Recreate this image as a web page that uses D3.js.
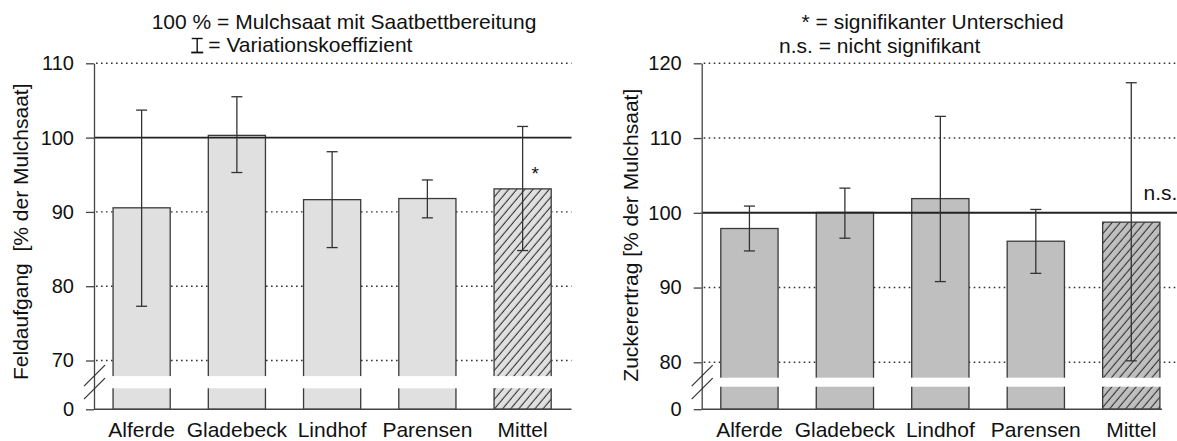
<!DOCTYPE html>
<html><head><meta charset="utf-8">
<script src="https://cdn.jsdelivr.net/npm/d3@7"></script>
<style>
body{margin:0;background:#fff;}
svg{display:block;font-family:"Liberation Sans",Arial,sans-serif;}
</style></head><body>
<svg id="chart" width="1177" height="441"></svg>
<script>
// ---- data ----
const categories = ["Alferde", "Gladebeck", "Lindhof", "Parensen", "Mittel"];
const feldaufgang = [90.55, 100.3, 91.65, 91.8, 93.1];
const feldaufgangLow = [77.3, 95.3, 85.2, 89.2, 84.8];
const feldaufgangHigh = [103.7, 105.5, 98.1, 94.3, 101.5];
const zuckerertrag = [97.9, 100.05, 101.9, 96.2, 98.75];
const zuckerertragLow = [94.9, 96.6, 90.8, 91.9, 80.2];
const zuckerertragHigh = [100.9, 103.3, 112.9, 100.45, 117.4];
const leftTicks = [0, 70, 80, 90, 100, 110];
const rightTicks = [0, 80, 90, 100, 110, 120];
const leftMarks = ["", "", "", "", "*"];
const leftTitle = ["100 % = Mulchsaat mit Saatbettbereitung", "= Variationskoeffizient"];
const rightTitle = ["* = signifikanter Unterschied", "n.s. = nicht signifikant"];
const leftYLabel = "Feldaufgang\u00a0\u00a0[% der Mulchsaat]";
const rightYLabel = "Zuckerertrag [% der Mulchsaat]";
const rightNote = "n.s.";

const svg = d3.select("#chart");
const defs = svg.append("defs");
const ink = "#222";

function hatch(id, bg) {
  const p = defs.append("pattern").attr("id", id)
    .attr("patternUnits", "userSpaceOnUse")
    .attr("width", 6.2).attr("height", 10)
    .attr("patternTransform", "rotate(40)");
  p.append("rect").attr("width", 6.2).attr("height", 10).attr("fill", bg);
  p.append("line").attr("x1", 3).attr("x2", 3).attr("y1", -1).attr("y2", 11)
    .attr("stroke", "#333").attr("stroke-width", 1.1);
}
hatch("hatchL", "#e0e0e0");
hatch("hatchR", "#bfbfbf");

function panel(cfg) {
  const { values, lo, hi, ticks, yBreak, yr, xr, gridEnd, baseEnd, fill, hatchId, gapHalf } = cfg;
  const y = d3.scaleLinear().domain([0, yBreak, ticks[ticks.length - 1]]).range(yr);
  const x = d3.scaleBand().domain(categories).range(xr).paddingInner(0.4).paddingOuter(0.2);
  const g = svg.append("g");
  const ax = xr[0];

  // dotted grid lines
  g.selectAll(".grid").data(ticks.filter(t => t !== 0 && t !== 100)).join("line")
    .attr("x1", ax + 2).attr("x2", gridEnd)
    .attr("y1", d => y(d)).attr("y2", d => y(d))
    .attr("stroke", "#333").attr("stroke-width", 1.4).attr("stroke-dasharray", "1.6,3.4");

  // bars
  g.selectAll(".bar").data(categories).join("rect")
    .attr("x", d => x(d)).attr("width", x.bandwidth())
    .attr("y", (d, i) => y(values[i]))
    .attr("height", (d, i) => y(0) - y(values[i]))
    .attr("fill", (d, i) => i === categories.length - 1 ? `url(#${hatchId})` : fill)
    .attr("stroke", "#3a3a3a").attr("stroke-width", 1.3);

  // axis break gap
  g.append("rect").attr("x", ax + 1).attr("width", gridEnd - ax)
    .attr("y", y(yBreak) - gapHalf).attr("height", gapHalf * 2).attr("fill", "#fff");

  // 100 % reference line
  g.append("line").attr("x1", ax).attr("x2", gridEnd)
    .attr("y1", y(100)).attr("y2", y(100))
    .attr("stroke", ink).attr("stroke-width", 1.9);

  // error bars
  const eb = g.selectAll(".err").data(categories).join("g")
    .attr("transform", d => `translate(${x(d) + x.bandwidth() / 2},0)`);
  eb.append("line").attr("y1", (d, i) => y(hi[i])).attr("y2", (d, i) => y(lo[i]))
    .attr("stroke", "#333").attr("stroke-width", 1.3);
  eb.append("line").attr("x1", -5.5).attr("x2", 5.5)
    .attr("y1", (d, i) => y(hi[i])).attr("y2", (d, i) => y(hi[i]))
    .attr("stroke", "#333").attr("stroke-width", 1.3);
  eb.append("line").attr("x1", -5.5).attr("x2", 5.5)
    .attr("y1", (d, i) => y(lo[i])).attr("y2", (d, i) => y(lo[i]))
    .attr("stroke", "#333").attr("stroke-width", 1.3);

  // y axis
  const ya = g.append("g").attr("transform", `translate(${ax},0)`)
    .call(d3.axisLeft(y).tickValues(ticks).tickFormat(d3.format("d"))
      .tickSize(8).tickSizeOuter(0).tickPadding(12));
  ya.select(".domain").attr("stroke", "#444").attr("stroke-width", 1.3);
  ya.selectAll(".tick line").attr("stroke", "#444").attr("stroke-width", 1.3);
  ya.selectAll(".tick text").attr("font-size", 20).attr("fill", "#111")
    .attr("font-family", "'Liberation Sans',Arial,sans-serif");

  // x axis
  const xa = g.append("g").attr("transform", `translate(0,${y(0)})`)
    .call(d3.axisBottom(x).tickSize(0).tickPadding(12.5));
  xa.select(".domain").remove();
  xa.selectAll(".tick text").attr("font-size", 21).attr("fill", "#111")
    .attr("font-family", "'Liberation Sans',Arial,sans-serif");
  g.append("line").attr("x1", ax).attr("x2", baseEnd)
    .attr("y1", y(0)).attr("y2", y(0)).attr("stroke", "#444").attr("stroke-width", 1.4);

  // break slashes
  const gc = y(yBreak);
  [[4, -17], [17, -4]].forEach(([a, b]) => {
    g.append("line").attr("x1", ax - 10).attr("y1", gc + a)
      .attr("x2", ax + 11).attr("y2", gc + b)
      .attr("stroke", "#333").attr("stroke-width", 1.2);
  });
  return { x, y, g };
}

const L = panel({
  values: feldaufgang, lo: feldaufgangLow, hi: feldaufgangHigh, ticks: leftTicks,
  yBreak: 67.08, yr: [409.3, 382.2, 63.3], xr: [94, 570.25],
  gridEnd: 571.5, baseEnd: 571.5, fill: "#e0e0e0", hatchId: "hatchL", gapHalf: 6.1
});
const R = panel({
  values: zuckerertrag, lo: zuckerertragLow, hi: zuckerertragHigh, ticks: rightTicks,
  yBreak: 77.34, yr: [409.2, 382.2, 63.3], xr: [701.7, 1179],
  gridEnd: 1177, baseEnd: 1162, fill: "#bfbfbf", hatchId: "hatchR", gapHalf: 4.5
});

// significance marker
L.g.selectAll(".mark").data(categories).join("text")
  .attr("x", (d, i) => L.x(d) + L.x.bandwidth() / 2 + 12.5)
  .attr("y", (d, i) => L.y(feldaufgangHigh[i]) + 54)
  .attr("text-anchor", "middle").attr("font-size", 19).attr("fill", "#111")
  .text((d, i) => leftMarks[i]);

// n.s. note
svg.append("text").attr("x", 1143.5).attr("y", 200).attr("font-size", 21).attr("fill", "#111").text(rightNote);

// titles
svg.append("text").attr("x", 151.7).attr("y", 28.5).attr("font-size", 21).attr("fill", "#111").text(leftTitle[0]);
svg.append("text").attr("x", 208.3).attr("y", 52).attr("font-size", 21).attr("fill", "#111").text(leftTitle[1]);
// error bar legend glyph
const leg = svg.append("g").attr("stroke", "#111").attr("stroke-width", 1.4);
leg.append("line").attr("x1", 197.2).attr("x2", 197.2).attr("y1", 38.5).attr("y2", 52.5);
leg.append("line").attr("x1", 191.7).attr("x2", 202.7).attr("y1", 38.5).attr("y2", 38.5);
leg.append("line").attr("x1", 191.2).attr("x2", 203.2).attr("y1", 52.5).attr("y2", 52.5).attr("stroke-width", 1.8);

svg.append("text").attr("x", 801.6).attr("y", 29).attr("font-size", 21).attr("fill", "#111").text(rightTitle[0]);
svg.append("text").attr("x", 779).attr("y", 53).attr("font-size", 21).attr("fill", "#111").text(rightTitle[1]);

// y axis titles
svg.append("text").attr("transform", "translate(28,380) rotate(-90)")
  .attr("font-size", 21).attr("fill", "#111").text(leftYLabel);
svg.append("text").attr("transform", "translate(638.3,381.7) rotate(-90)")
  .attr("font-size", 21).attr("fill", "#111").text(rightYLabel);
</script>
</body></html>
